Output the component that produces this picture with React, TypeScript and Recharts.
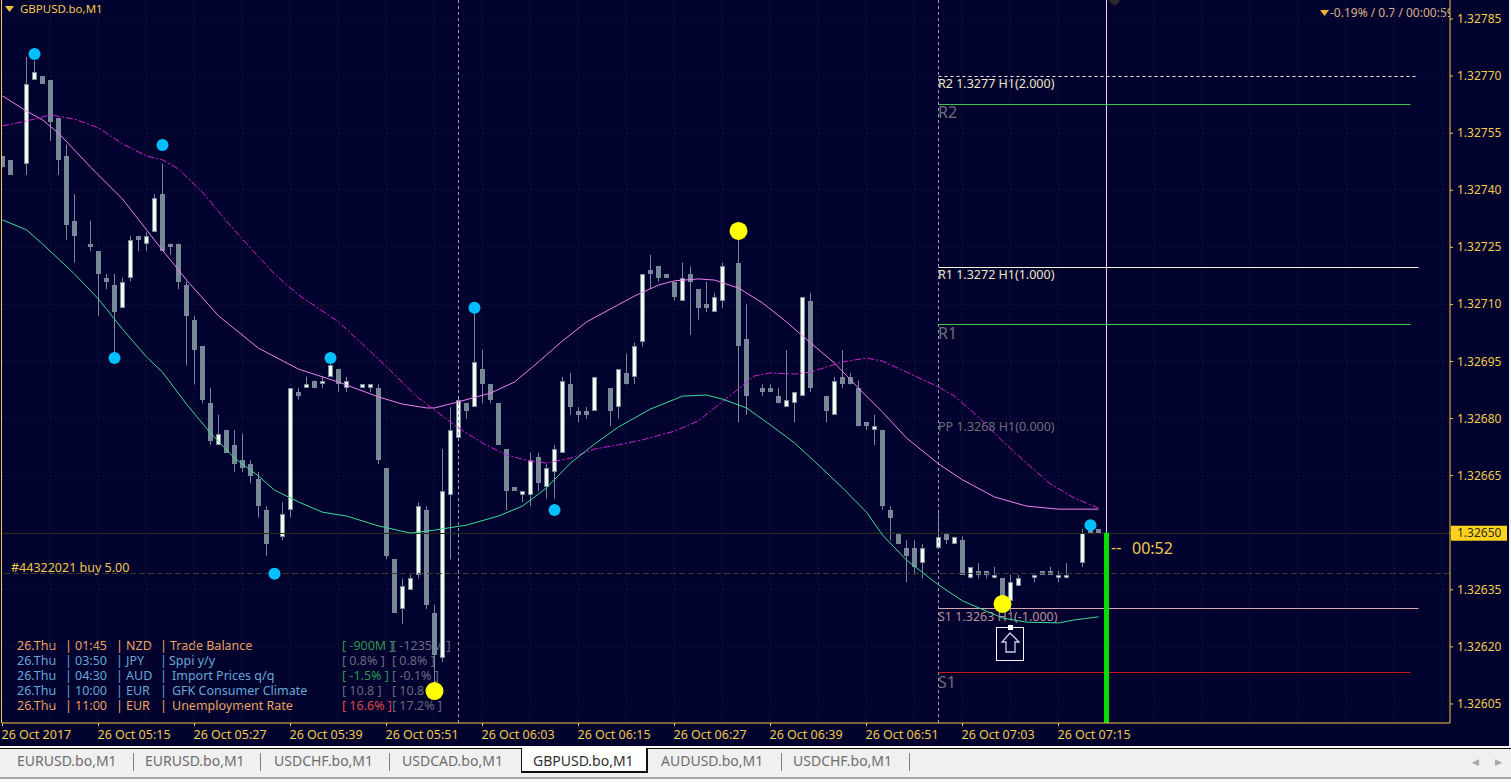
import React from "react";
import { ComposedChart, Bar, Line, XAxis, YAxis, CartesianGrid, ReferenceLine, ReferenceDot } from "recharts";

// All prices are stored as points above 1.32000 (1 point = 0.00001)
const n = null;
const BASE = 1.32;
const px = (v: number) => BASE + v / 1e5;

const openPts = [
  749,748,n,747,769,770,769,759,749,732,
  n,726,724,717,715,709,717,728,726,729,
  739,726,726,715,706,699,684,673,677,673,
  669,668,664,656,n,649,656,687,688,690,
  689,691,693,688,n,688,688,688,667,643,
  630,635,639,656,629,617,660,675,684,683,
  693,689,684,672,662,660,660,670,662,666,
  671,689,682,682,682,n,688,683,692,691,
  700,719,720,718,716,711,718,714,710,708,
  711,n,721,701,n,688,688,686,683,684,
  686,711,n,686,681,691,691,688,679,677,
  677,656,650,646,646,642,n,646,650,647,
  648,638,640,640,638,638,632,636,n,638,
  640,640,638,638,n,642,651,651];
const highPts = [
  749,748,n,775,774,770,769,759,752,739,
  n,732,724,718,718,717,728,728,729,739,
  747,726,726,716,707,699,688,681,677,677,
  676,669,666,657,n,658,688,688,691,690,
  691,697,693,691,n,689,689,689,667,643,
  638,639,658,657,631,672,683,686,684,708,
  698,689,684,672,662,661,671,671,668,673,
  691,692,683,683,691,n,688,693,697,700,
  718,723,720,718,716,721,720,714,716,713,
  721,n,727,710,n,689,689,688,698,687,
  712,713,n,686,691,698,692,690,679,681,
  677,657,650,648,648,647,n,656,650,649,
  649,641,642,640,641,638,639,639,n,639,
  640,641,640,642,n,651,651,651];
const lowPts = [
  746,744,n,744,769,768,753,744,727,721,
  n,724,707,714,697,709,716,724,724,729,
  724,723,714,694,689,684,673,673,671,666,
  666,663,654,644,n,648,654,685,688,688,
  688,691,687,687,n,688,687,668,643,629,
  626,635,638,630,610,616,643,675,680,683,
  684,684,673,656,661,658,657,661,659,659,
  671,681,679,680,682,n,678,680,689,689,
  699,714,716,717,711,711,702,706,708,708,
  709,n,679,681,n,686,687,684,683,679,
  686,687,n,679,681,688,689,678,677,673,
  656,648,647,637,639,638,n,646,647,647,
  639,638,638,638,638,633,629,636,n,637,
  639,639,637,638,n,641,650,650];
const closePts = [
  746,744,n,768,771,768,758,748,731,728,
  n,725,718,716,708,716,727,727,728,738,
  724,725,716,707,698,685,674,676,671,668,
  667,665,657,647,n,655,688,686,689,688,
  690,694,689,690,n,689,689,669,644,629,
  636,638,657,631,618,661,677,685,682,695,
  689,685,673,661,661,661,669,663,667,672,
  690,683,681,681,691,n,682,693,689,699,
  718,718,717,717,712,717,716,709,709,712,
  720,n,699,686,n,687,687,684,685,687,
  712,688,n,682,690,689,689,678,678,678,
  657,654,647,644,641,646,n,649,648,649,
  639,641,639,639,639,633,637,638,n,639,
  639,639,639,639,n,650,650,650];

const pinkIdx = [0,3,5,7,11,15,19,23,27,32,37,42,47,50,53,54,57,61,64,67,70,73,76,79,82,84,87,89,92,95,98,101,104,107,110,113,117,120,124,128,132,137];
const pinkPts = [764.8,760.8,758.5,755.0,746.1,737.7,726.9,716.4,707.0,698.5,693.0,689.6,685.7,683.8,682.8,682.8,684.4,686.7,689.6,694.9,700.4,705.4,708.8,712.2,715.1,716.2,716.7,716.4,714.3,710.4,705.4,699.9,694.6,688.0,681.7,674.9,668.1,663.9,659.4,657.0,656.2,656.2];
const magentaIdx = [0,3,6,9,12,15,18,20,22,25,28,31,34,37,42,45,48,52,57,60,63,66,68,71,74,77,80,84,87,89,92,94,96,99,101,105,108,110,113,117,119,122,125,128,131,134,137];
const magentaPts = [756.9,758.2,759.8,758.7,756.4,752.2,749.0,748.0,745.6,739.5,731.9,724.8,718.0,712.5,705.4,699.6,693.6,685.4,677.5,673.6,670.4,668.8,668.3,669.6,672.0,673.1,674.4,676.7,679.4,682.8,687.8,691.2,692.0,691.7,692.2,694.9,695.9,695.1,692.2,688.3,685.9,680.4,674.1,668.3,662.8,659.1,656.5];
const greenIdx = [0,3,5,9,12,15,18,20,23,26,29,32,34,37,40,43,47,51,54,58,62,65,68,71,74,77,81,85,88,90,93,96,99,102,105,108,110,113,117,120,123,125,128,132,134,137];
const greenPts = [732.2,729.6,725.9,718.0,711.4,703.5,696.2,692.2,683.8,676.2,669.6,664.9,661.2,658.1,655.4,654.4,651.8,649.9,650.7,652.0,654.4,657.0,661.8,668.3,673.3,677.8,682.5,685.9,686.2,685.1,682.8,678.3,673.6,667.8,661.8,655.4,649.4,642.8,636.3,632.1,629.4,627.6,626.5,626.3,627.1,627.9];

const blueIdx = [4,14,20,34,41,59,69,136];
const bluePts = [775.8,695.9,751.9,639.2,695.9,709.1,656.0,652.0];
const yellowIdx = [54,92,125];
const yellowPts = [608.4,729.3,631.3];
const ghostIdx = [139];
const ghostPts = [790];

const levelR2Dash = 769.9;
const levelR2 = 762.54;
const levelR1Line = 719.7;
const levelR1 = 704.72;
const levelS1Line = 630.09;
const levelS1 = 613.27;
const orderLevel = 639.3;
const bidLine = 649.8;

const yTicks = [1.32785,1.3277,1.32755,1.3274,1.32725,1.3271,1.32695,1.3268,1.32665,1.3265,1.32635,1.3262,1.32605];
const xTickIdx = [0,12,24,36,48,60,72,84,96,108,120,132];
const xTickLabels = ["26 Oct 2017","26 Oct 05:15","26 Oct 05:27","26 Oct 05:39","26 Oct 05:51","26 Oct 06:03","26 Oct 06:15","26 Oct 06:27","26 Oct 06:39","26 Oct 06:51","26 Oct 07:03","26 Oct 07:15"];
const gridIdx = [0,6,12,18,24,30,36,42,48,54,60,66,72,78,84,90,96,102,108,114,120,126,132,138,144,150,156,162,168,174,180];
const tabs = ["EURUSD.bo,M1","EURUSD.bo,M1","USDCHF.bo,M1","USDCAD.bo,M1","GBPUSD.bo,M1","AUDUSD.bo,M1","USDCHF.bo,M1"];
const tabText = [17,145,274,402,533,661,793];
const tabSep = [133,260,389,781,909];

const evTime = ["01:45","03:50","04:30","10:00","11:00"];
const evCcy = ["NZD","JPY","AUD","EUR","EUR"];
const evName = ["Trade Balance","Sppi y/y","Import Prices q/q","GFK Consumer Climate","Unemployment Rate"];
const evActual = ["[ -900M ]","[ 0.8% ]","[ -1.5% ]","[ 10.8 ]","[ 16.6% ]"];
const evPrev = ["[ -1235M ]","[ 0.8% ]","[ -0.1% ]","[ 10.8 ]","[ 17.2% ]"];
const evColor = ["#F0A860","#68A8D8","#68A8D8","#68A8D8","#F0A860"];
const evActColor = ["#2E9A4A","#6A6A80","#2E9A4A","#6A6A80","#E04848"];
const evNameX = [170,169,172,172,172];
const evRowY = [645.5,660.5,675.5,690.5,705.5];

const BID = 1.3265;
const BG = "#02022F";
const GOLD = "#F0CA4C";
const FONT = "'Noto Sans', sans-serif";

function pick(idx: number[], vals: number[], i: number) {
  const k = idx.indexOf(i);
  return k < 0 ? null : px(vals[k]);
}
const table = Array.from({ length: 140 }, (_, i) => {
  const o = openPts[i], h = highPts[i], l = lowPts[i], c = closePts[i];
  const has = o !== undefined && o !== null;
  return {
    i,
    open: has ? px(o as number) : null,
    high: has ? px(h as number) : null,
    low: has ? px(l as number) : null,
    close: has ? px(c as number) : null,
    range: has ? [px(l as number), px(h as number)] : null,
    pink: pick(pinkIdx, pinkPts, i),
    magenta: pick(magentaIdx, magentaPts, i),
    green: pick(greenIdx, greenPts, i),
    blue: pick(blueIdx, bluePts, i),
    yellow: pick(yellowIdx, yellowPts, i),
    ghost: pick(ghostIdx, ghostPts, i),
  };
});

function Candle(props: any) {
  const { x, y, width, height, payload } = props;
  if (!payload || payload.open === null || !height) return null;
  const c = Math.floor(x + width / 2) + 0.5;
  const span = payload.high - payload.low;
  const at = (v: number) => y + ((payload.high - v) / span) * height;
  const top = Math.round(at(Math.max(payload.open, payload.close)));
  const bot = Math.round(at(Math.min(payload.open, payload.close)));
  const bull = payload.close > payload.open;
  return (
    <g>
      <line x1={c} x2={c} y1={y} y2={y + height} stroke="#778899" strokeWidth={1} />
      {bull ? (
        <rect x={c - 2} y={top + 0.5} width={4} height={Math.max(bot - top - 1, 1)} fill="#F0FFF0" stroke="#778899" strokeWidth={1} />
      ) : (
        <rect x={c - 2.5} y={top} width={5} height={Math.max(bot - top, 2)} fill="#778899" />
      )}
    </g>
  );
}

function YTick(props: any) {
  const { y, payload } = props;
  const active = Math.abs(payload.value - BID) < 1e-7;
  return (
    <g>
      {active && <rect x={1451} y={y - 7} width={56} height={15} fill="#FFD21E" />}
      <text x={1457} y={y + 4} fontSize={12} fontFamily={FONT} fill={active ? "#2A2A20" : GOLD}>
        {payload.value.toFixed(5)}
      </text>
    </g>
  );
}

function XTick(props: any) {
  const { x, y, payload } = props;
  const k = xTickIdx.indexOf(payload.value);
  return (
    <text x={x - 1} y={y + 11} fontSize={12.5} fontFamily={FONT} fill={GOLD}>
      {xTickLabels[k]}
    </text>
  );
}

function Trade(props: any) {
  const { cx, cy } = props;
  const x = Math.round(cx);
  const y = Math.round(cy);
  return (
    <g>
      <rect x={x - 13.5} y={y + 0.5} width={27} height={33} fill={BG} stroke="#F4F4F4" strokeWidth={1} />
      <rect x={x - 2} y={y - 2} width={5} height={5} fill="#FFFFFF" />
      <path
        d={`M${x} ${y + 6} L${x + 9} ${y + 15} L${x + 5} ${y + 15} L${x + 5} ${y + 25} L${x - 4} ${y + 25} L${x - 4} ${y + 15} L${x - 8} ${y + 15} Z`}
        fill="none"
        stroke="#C8D0E0"
        strokeWidth={1.3}
      />
    </g>
  );
}

function T(p: { x: number; y: number; c: string; s?: number; children: React.ReactNode }) {
  return (
    <div
      style={{
        position: "absolute",
        left: p.x,
        top: p.y,
        transform: "translateY(-50%)",
        color: p.c,
        fontSize: p.s ?? 12.5,
        fontFamily: FONT,
        lineHeight: 1,
        whiteSpace: "nowrap",
      }}
    >
      {p.children}
    </div>
  );
}

function seg(a: number, b: number, v: number) {
  return [{ x: a, y: px(v) }, { x: b, y: px(v) }] as any;
}

export default function App() {
  return (
    <div style={{ position: "fixed", left: 0, top: 0, width: 1511, height: 782, background: BG, overflow: "hidden" }}>
      {/* chart texts sit below the candles, as in the terminal */}
      <svg style={{ position: "absolute", left: 5, top: 6 }} width={10} height={6}>
        <path d="M0 0 L9 0 L4.5 6 Z" fill="#F0C040" />
      </svg>
      <T x={20} y={9} c={GOLD} s={11.5}>GBPUSD.bo,M1</T>
      <svg style={{ position: "absolute", left: 1320, top: 10 }} width={10} height={6}>
        <path d="M0 0 L9 0 L4.5 6 Z" fill="#F0B040" />
      </svg>
      <div style={{ position: "absolute", left: 1330, top: 5, width: 120, height: 16, overflow: "hidden" }}>
        <T x={0} y={8} c="#D8B088" s={12}>-0.19% / 0.7 / 00:00:59</T>
      </div>
      <T x={11} y={568} c={GOLD}>#44322021 buy 5.00</T>
      <T x={938} y={84} c="#F0E8C8">R2 1.3277 H1(2.000)</T>
      <T x={938} y={112} c="#6E6E78" s={16}>R2</T>
      <T x={938} y={275} c="#F0E8C8">R1 1.3272 H1(1.000)</T>
      <T x={938} y={333} c="#6E6E78" s={16}>R1</T>
      <T x={938} y={427} c="#6E6E78">PP 1.3268 H1(0.000)</T>
      <T x={938} y={617} c="#B89098">S1 1.3263 H1(-1.000)</T>
      <T x={938} y={682} c="#6E6E78" s={16}>S1</T>
      <T x={1111} y={547} c={GOLD} s={16}>--</T>
      <T x={1132} y={548} c={GOLD} s={16}>00:52</T>
      {evRowY.map((y, r) => (
        <React.Fragment key={r}>
          <T x={17} y={y} c={evColor[r]}>26.Thu</T>
          <T x={65} y={y} c={evColor[r]}>|</T>
          <T x={75} y={y} c={evColor[r]}>{evTime[r]}</T>
          <T x={116} y={y} c={evColor[r]}>|</T>
          <T x={126} y={y} c={evColor[r]}>{evCcy[r]}</T>
          <T x={160} y={y} c={evColor[r]}>|</T>
          <T x={evNameX[r]} y={y} c={evColor[r]}>{evName[r]}</T>
          <T x={342} y={y} c={evActColor[r]}>{evActual[r]}</T>
          <T x={392} y={y} c="#6A6A80">{evPrev[r]}</T>
        </React.Fragment>
      ))}
      <div style={{ position: "absolute", left: 1, top: 0, width: 1, height: 723, background: GOLD }} />

      <div style={{ position: "absolute", left: 0, top: 0 }}>
        <ComposedChart width={1511} height={782} data={table} margin={{ top: 0, right: 0, bottom: 0, left: 2 }}>
          <CartesianGrid stroke="#1E1E48" strokeDasharray="1 3" verticalValues={gridIdx} horizontalValues={yTicks} />
          <XAxis
            dataKey="i"
            type="number"
            domain={[-0.0625, 180.9375]}
            allowDataOverflow
            ticks={xTickIdx}
            height={59}
            tick={<XTick />}
            tickLine={{ stroke: GOLD }}
            axisLine={{ stroke: GOLD }}
            tickSize={3}
            interval={0}
          />
          <YAxis
            orientation="right"
            type="number"
            domain={[1.326, 1.3279]}
            allowDataOverflow
            ticks={yTicks}
            width={61}
            tick={<YTick />}
            tickLine={{ stroke: GOLD }}
            axisLine={{ stroke: GOLD }}
            tickSize={3}
            interval={0}
          />
          <ReferenceLine y={px(bidLine)} stroke="#2C2C1A" />
          <ReferenceLine y={px(orderLevel)} stroke="#3C3C2C" strokeDasharray="6 3" />
          <ReferenceLine x={57} stroke="#9C9CB0" strokeDasharray="3 3" />
          <ReferenceLine x={117} stroke="#9C9CB0" strokeDasharray="3 3" />
          <ReferenceLine x={138} stroke="#F0C8F0" />
          <ReferenceLine segment={seg(117, 177, levelR2Dash)} stroke="#F5F0D8" strokeDasharray="3 3" />
          <ReferenceLine segment={seg(117, 176, levelR2)} stroke="#3CC850" />
          <ReferenceLine segment={seg(117, 177, levelR1Line)} stroke="#F5F0D8" />
          <ReferenceLine segment={seg(117, 176, levelR1)} stroke="#3CC850" />
          <ReferenceLine segment={seg(117, 177, levelS1Line)} stroke="#D8A8B8" />
          <ReferenceLine segment={seg(117, 176, levelS1)} stroke="#C81818" />
          <ReferenceLine segment={[{ x: 138, y: BID }, { x: 138, y: 1.326 }]} stroke="#00E000" strokeWidth={5} />
          <Bar dataKey="range" barSize={6} shape={<Candle />} isAnimationActive={false} />
          <Line dataKey="pink" stroke="#EE82EE" strokeWidth={1} dot={false} connectNulls isAnimationActive={false} />
          <Line dataKey="magenta" stroke="#D020D0" strokeWidth={1} strokeDasharray="7 2 2 2" dot={false} connectNulls isAnimationActive={false} />
          <Line dataKey="green" stroke="#3CDC98" strokeWidth={1} dot={false} connectNulls isAnimationActive={false} />
          <Line dataKey="blue" stroke="none" dot={{ r: 6, fill: "#00BFFF", stroke: "none" }} isAnimationActive={false} />
          <Line dataKey="yellow" stroke="none" dot={{ r: 9, fill: "#FFFF00", stroke: "none" }} isAnimationActive={false} />
          <Line dataKey="ghost" stroke="none" dot={{ r: 5, fill: "#2A2A28", stroke: "none" }} isAnimationActive={false} />
          <ReferenceDot x={126} y={px(625.2)} shape={<Trade />} />
        </ComposedChart>
      </div>

      {/* terminal tab bar */}
      <div style={{ position: "absolute", left: 0, top: 746, width: 1511, height: 2, background: "#FFFFFF" }} />
      <div style={{ position: "absolute", left: 0, top: 748, width: 1511, height: 30, background: "#F0F0F0", borderTop: "1px solid #101010", boxSizing: "border-box" }} />
      <div style={{ position: "absolute", left: 0, top: 777, width: 1511, height: 2, background: "#A8A8A8" }} />
      <div style={{ position: "absolute", left: 0, top: 779, width: 1511, height: 3, background: "#F8F8F8" }} />
      <div style={{ position: "absolute", left: 1509, top: 0, width: 2, height: 748, background: "#F0F0F0" }} />
      <div style={{ position: "absolute", left: 521, top: 748, width: 127, height: 25, background: "#FFFFFF", borderLeft: "1px solid #101010", borderRight: "2px solid #101010", borderBottom: "2px solid #101010", boxSizing: "border-box" }} />
      {tabSep.map((x, k) => (
        <div key={k} style={{ position: "absolute", left: x, top: 753, width: 1, height: 18, background: "#808080" }} />
      ))}
      {tabs.map((t, k) => (
        <T key={k} x={tabText[k]} y={761} c={k === 4 ? "#303030" : "#6E6E6E"} s={14}>{t}</T>
      ))}
      <T x={1472} y={761} c="#A8A8A8" s={9}>◀</T>
      <T x={1495} y={761} c="#A8A8A8" s={9}>▶</T>
    </div>
  );
}
